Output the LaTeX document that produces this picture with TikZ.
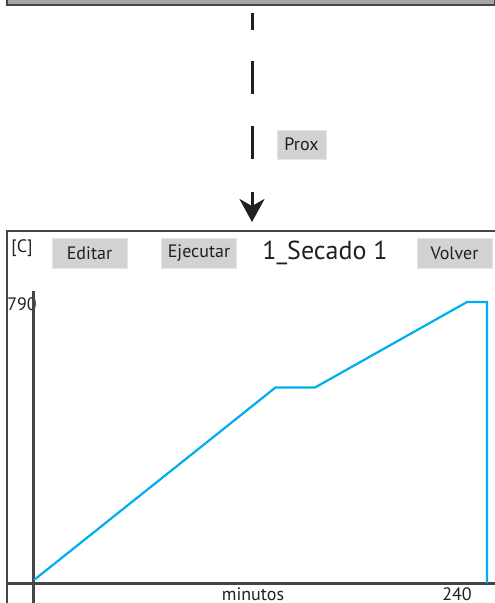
\documentclass[tikz,border=0pt]{standalone}
\usepackage{fontspec}
\setmainfont{PT Sans}
\usetikzlibrary{arrows.meta}
\usetikzlibrary{positioning}
\definecolor{panelgray}{HTML}{A6A6A6}
\definecolor{framegray}{HTML}{454545}
\definecolor{btngray}{HTML}{D2D2D2}
\definecolor{btnedge}{HTML}{E6E6E6}
\definecolor{curveblue}{HTML}{00AEEF}
\definecolor{ink}{HTML}{231F20}

\begin{document}
\begin{tikzpicture}[x=1pt,y=-1pt]
  \tikzset{btn/.style={draw=btnedge, line width=1pt, fill=btngray, minimum width=75pt, minimum height=30pt, inner sep=0pt, font=\fontsize{18}{20}\selectfont, text=ink}}
  \tikzset{frame/.style={draw=framegray, line width=2.2pt}}
  \tikzset{axis/.style={draw=framegray, line width=3pt}}
  \tikzset{lbl/.style={inner sep=0pt, font=\fontsize{18}{20}\selectfont, text=ink}}
  \tikzset{flow/.style={draw=ink, line width=3pt, shorten >=8pt,
      dash pattern=on 0pt off 7pt on 17pt off 31pt on 33pt off 32pt on 33pt off 33pt on 80pt,
      -{Stealth[length=23pt, width=25pt, inset=7pt]}}}

  \useasboundingbox (0,0) rectangle (495,603);

  % screen before (cut off at the top)
  \node[frame, fill=panelgray, anchor=south west, minimum width=488pt, minimum height=40pt] (prev) at (6,6) {};
  % screen after
  \node[frame, fill=white, anchor=north west, minimum width=520pt, minimum height=400pt] (screen) at (6,230) {};

  \coordinate (flowx) at (252,0);
  \draw[flow] (prev.south -| flowx) -- (screen.north -| flowx);
  \node[btn, minimum width=49pt, minimum height=29pt] (prox) at (301.5,144.5) {Prox};

  % top row
  \node[lbl] (unidad) at (22,248) {[C]};
  \node[btn] (editar) at (89.5,253) {Editar};
  \node[btn] (ejecutar) at (199,253) {Ejecutar};
  \node[lbl, font=\fontsize{26}{28}\selectfont] (titulo) at (325,253) {1\_Secado 1};
  \node[btn] (volver) at (454.5,253) {Volver};

  % chart
  \node[lbl] (ymax) at (22,304) {790};
  \node[lbl, anchor=base] (xlabel) at (253,600) {minutos};
  \node[lbl, anchor=base] (xmax) at (457,600) {240};
  \coordinate (o) at (33,583);
  \draw[axis] (o |- 0,291) -- (o |- 0,610);
  \draw[axis] (screen.west |- o) -- (495,583);
  \draw[curveblue, line width=2.2pt] (34,580) -- (275.5,387.5) -- (315,387.5)
    -- (467,302) -- (487,302) -- (487,583);

\end{tikzpicture}
\end{document}
